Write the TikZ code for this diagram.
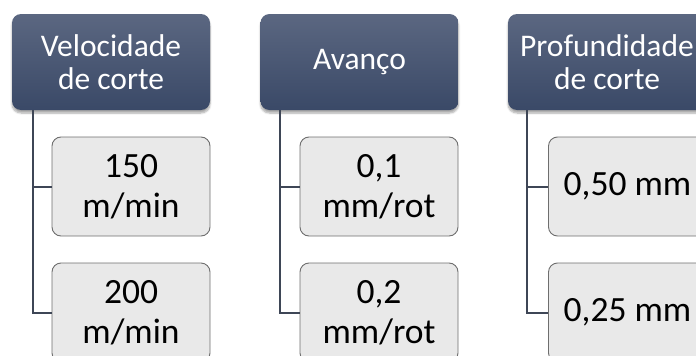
\documentclass[tikz,border=0pt]{standalone}
\usepackage{fontspec}
\setmainfont{Carlito}
\usetikzlibrary{shadows.blur}
\definecolor{hdtop}{HTML}{5B6781}
\definecolor{hdbot}{HTML}{3A4967}
\definecolor{boxfill}{HTML}{E9E9E9}
\definecolor{boxline}{HTML}{6E6E6E}
\definecolor{conn}{HTML}{3E4656}
\tikzset{
  header/.style={rectangle, rounded corners=9pt, minimum width=198pt, minimum height=96pt,
    top color=hdtop, bottom color=hdbot, draw=none, text=white, align=center,
    font=\fontsize{31.5}{33}\selectfont, inner sep=0pt,
    blur shadow={shadow xshift=0pt, shadow yshift=-3pt, shadow blur steps=6, shadow opacity=35}},
  valbox/.style={rectangle, rounded corners=9pt, minimum width=158pt, minimum height=99pt,
    fill=boxfill, draw=boxline, line width=0.9pt, text=black, align=center,
    font=\fontsize{35.5}{40}\selectfont, inner sep=0pt},
  link/.style={draw=conn, line width=2pt}
}
\begin{document}
\begin{tikzpicture}[x=1pt,y=-1pt]
\useasboundingbox (0,0) rectangle (696,356);
\clip (0,0) rectangle (696,356);
% headers
\node[header] (h1) at (111,62) {Velocidade\\de corte};
\node[header] (h2) at (359.5,62) {Avanço};
\node[header] (h3) at (607,62) {Profundidade\\de corte};
% value boxes
\node[valbox] (a1) at (131,186.5) {150\\m/min};
\node[valbox] (a2) at (131,312.5) {200\\m/min};
\node[valbox] (b1) at (379,186.5) {0,1\\mm/rot};
\node[valbox] (b2) at (379,312.5) {0,2\\mm/rot};
\node[valbox] (c1) at (627.5,186.5) {0,50 mm};
\node[valbox] (c2) at (627.5,312.5) {0,25 mm};
% trunk points
\coordinate (t1) at (33,110);
\coordinate (t2) at (280,110);
\coordinate (t3) at (527,110);
% connectors
\draw[link] (t1) |- (a2.west);
\draw[link] (t1 |- a1.west) -- (a1.west);
\draw[link] (t2) |- (b2.west);
\draw[link] (t2 |- b1.west) -- (b1.west);
\draw[link] (t3) |- (c2.west);
\draw[link] (t3 |- c1.west) -- (c1.west);
\end{tikzpicture}
\end{document}
